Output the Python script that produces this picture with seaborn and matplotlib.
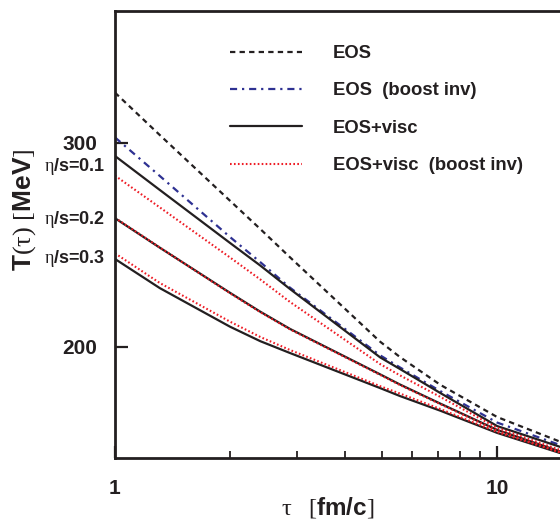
import matplotlib
matplotlib.use("Agg")
import matplotlib.pyplot as plt
from matplotlib.ticker import FixedLocator, NullLocator, FixedFormatter, NullFormatter
import seaborn as sns

# Proper time tau [fm/c]
tau = [1.0, 1.31, 2.0, 2.4, 2.87, 4.94, 5.57, 7.1, 10.0, 14.6]

# Temperature T(tau) [MeV]
eos = [331.4, 304.6, 267.3, 252.7, 238.9, 202.0, 195.9, 185.4, 173.9, 165.6]
eos_boost = [303.2, 280.8, 248.7, 236.6, 224.9, 196.6, 191.9, 183.1, 172.0, 164.5]

visc_01 = [292.2, 273.1, 245.8, 235.0, 224.3, 195.8, 191.3, 182.4, 170.8, 163.9]
visc_02 = [258.2, 243.5, 222.6, 214.4, 207.2, 189.3, 185.5, 178.6, 169.5, 162.4]
visc_03 = [238.1, 224.7, 208.1, 202.2, 197.5, 184.2, 181.3, 176.1, 168.5, 161.9]

visc_boost_01 = [281.0, 263.8, 238.8, 228.6, 218.6, 193.2, 188.9, 181.0, 170.2, 162.9]
visc_boost_02 = [258.4, 243.6, 222.4, 214.2, 207.0, 189.1, 185.3, 178.4, 169.3, 162.2]
visc_boost_03 = [240.8, 227.0, 210.2, 203.9, 198.7, 184.9, 182.2, 176.7, 168.8, 162.1]

eta_labels = ["\u03b7/s=0.1", "\u03b7/s=0.2", "\u03b7/s=0.3"]
eta_label_T = [286.4, 257.3, 238.5]

legend_labels = ["EOS", "EOS  (boost inv)", "EOS+visc", "EOS+visc  (boost inv)"]

x_ticks = [1, 10]
x_tick_labels = ["1", "10"]
y_ticks = [200, 300]
y_tick_labels = ["200", "300"]

sns.set_style("white")
plt.rcParams["font.family"] = ["Liberation Sans", "DejaVu Sans"]
plt.rcParams["mathtext.fontset"] = "custom"
plt.rcParams["mathtext.rm"] = "Liberation Serif"
plt.rcParams["mathtext.it"] = "Liberation Serif:italic"
plt.rcParams["mathtext.bf"] = "Liberation Sans:bold"

fig = plt.figure(figsize=(5.6, 5.21), dpi=100)
ax = fig.add_axes([115 / 560, 1 - 458 / 521, 1 - 115 / 560, (458 - 11) / 521])

black = "#231f20"
blue = "#2e3192"
red = "#ee1c25"

lw = 1.6
sns.lineplot(x=tau, y=eos, ax=ax, color=black, lw=lw, linestyle=(0, (2.4, 1.9)),
             label=legend_labels[0])
sns.lineplot(x=tau, y=eos_boost, ax=ax, color=blue, lw=lw,
             linestyle=(0, (3.2, 2.2, 1.0, 2.2)), label=legend_labels[1])
for i, vals in enumerate([visc_01, visc_02, visc_03]):
    sns.lineplot(x=tau, y=vals, ax=ax, color=black, lw=lw,
                 label=legend_labels[2] if i == 0 else "_nolegend_")
for i, vals in enumerate([visc_boost_01, visc_boost_02, visc_boost_03]):
    sns.lineplot(x=tau, y=vals, ax=ax, color=red, lw=1.5, linestyle=(0, (0.8, 1.1)),
                 label=legend_labels[3] if i == 0 else "_nolegend_")

ax.set_xscale("log")
ax.set_yscale("log")
ax.set_xlim(1.0, 14.6)
ax.set_ylim(160.3, 389.8)

ax.xaxis.set_major_locator(FixedLocator(x_ticks))
ax.xaxis.set_major_formatter(FixedFormatter(x_tick_labels))
ax.xaxis.set_minor_locator(FixedLocator([2, 3, 4, 5, 6, 7, 8, 9]))
ax.xaxis.set_minor_formatter(NullFormatter())
ax.yaxis.set_major_locator(FixedLocator(y_ticks))
ax.yaxis.set_major_formatter(FixedFormatter(y_tick_labels))
ax.yaxis.set_minor_locator(NullLocator())

ax.tick_params(axis="both", which="major", direction="in", length=9, width=1.6,
               color=black, labelsize=15, pad=13, bottom=True, left=True,
               top=False, right=False)
ax.tick_params(axis="x", which="major", pad=15)
ax.tick_params(axis="x", which="minor", direction="in", length=5, width=1.3,
               color=black, bottom=True, top=False)
for lab in ax.get_xticklabels() + ax.get_yticklabels():
    lab.set_fontweight("bold")
    lab.set_color(black)

for side in ["left", "bottom", "top"]:
    ax.spines[side].set_linewidth(2.0)
    ax.spines[side].set_color(black)
ax.spines["right"].set_visible(False)

ax.set_xlabel(r"$\mathrm{\tau\quad[}\mathbf{fm/c}\mathrm{]}$", fontsize=17.5, color=black)
ax.set_ylabel(r"$\mathbf{T}\mathrm{(\tau)\ [}\mathbf{MeV}\mathrm{]}$", fontsize=19, color=black)
ax.xaxis.set_label_coords(0.479, -0.083)
ax.yaxis.set_label_coords(-0.172, 0.555)

for text, t in zip(eta_labels, eta_label_T):
    ax.annotate(r"$\mathrm{\eta}$" + text[1:], xy=(1.0, t), xycoords="data",
                xytext=(-7, 0), textcoords="offset points", ha="right", va="center",
                fontsize=13, fontweight="bold", color=black, annotation_clip=False)

leg = ax.legend(loc="upper left", bbox_to_anchor=(0.221, 0.961), frameon=False,
                fontsize=13.3, handlelength=3.9, handletextpad=1.68, labelspacing=1.1)
for txt in leg.get_texts():
    txt.set_fontweight("bold")
    txt.set_color(black)

fig.savefig("out.png", dpi=100)
